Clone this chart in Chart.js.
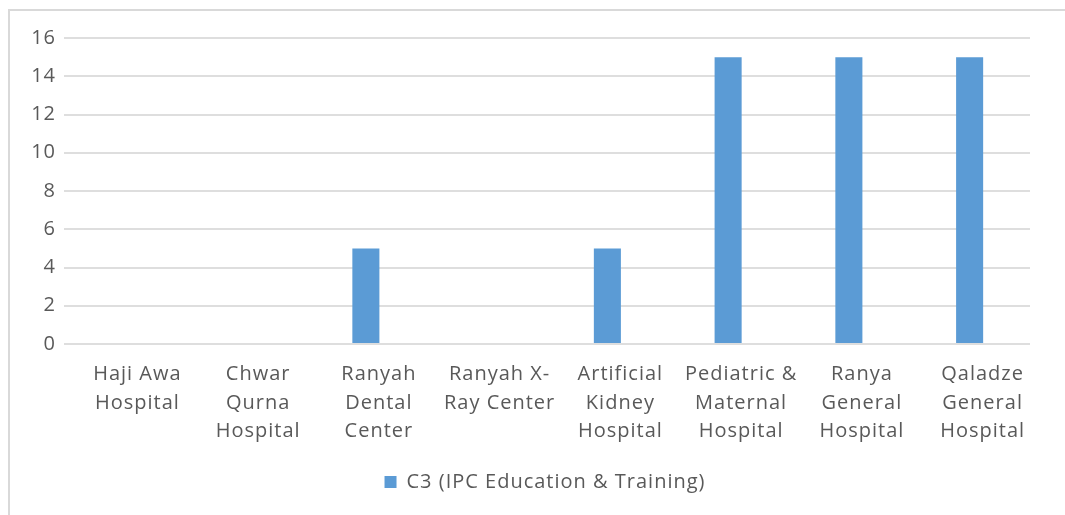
<!DOCTYPE html>
<html>
<head>
<meta charset="utf-8">
<script src="https://cdn.jsdelivr.net/npm/chart.js@4/dist/chart.umd.min.js"></script>
<style>
  body { margin: 0; background: #fff; }
  #frame { position: absolute; left: 8px; top: 9px; width: 1100px; height: 600px;
           border-left: 2px solid #d9d9d9; border-top: 2px solid #d9d9d9; }
  #wrap { position: absolute; left: 0; top: 0; width: 1065px; height: 515px; }
</style>
</head>
<body>
<div id="frame"></div>
<div id="wrap"><canvas id="myChart"></canvas></div>
<script>
// hospitals (tick labels, split the way the picture wraps them)
var hospitals = [
    ["Haji Awa", "Hospital"],
    ["Chwar", "Qurna", "Hospital"],
    ["Ranyah", "Dental", "Center"],
    ["Ranyah X-", "Ray Center"],
    ["Artificial", "Kidney", "Hospital"],
    ["Pediatric &", "Maternal", "Hospital"],
    ["Ranya", "General", "Hospital"],
    ["Qaladze", "General", "Hospital"]
];
var seriesName = "C3 (IPC Education & Training)";
var c3Values = [0, 0, 5, 0, 5, 15, 15, 15];
var yTicks = [0, 2, 4, 6, 8, 10, 12, 14, 16];

var textColor = "#595959";
var fontFamily = "'Open Sans', Lato, sans-serif";

// the original text is set a bit wide, so space the letters out
// and the legend sits a little right of the middle
var tweaks = {
    id: 'tweaks',
    beforeLayout: function (chart) { chart.ctx.letterSpacing = "1px"; },
    afterLayout: function (chart) {
        chart.legend.left += 30;
        chart.legend.right += 30;
    },
    beforeDraw: function (chart) { chart.ctx.letterSpacing = "1px"; }
};

var ctx = document.getElementById("myChart").getContext('2d');
new Chart(ctx, {
    type: 'bar',
    data: {
        labels: hospitals,
        datasets: [{
            label: seriesName,
            data: c3Values,
            backgroundColor: "#5b9bd5",
            borderWidth: 0,
            categoryPercentage: 1,
            barPercentage: 0.224
        }]
    },
    plugins: [tweaks],
    options: {
        responsive: true,
        maintainAspectRatio: false,
        animation: false,
        layout: { padding: { left: 0, right: 35, top: 38, bottom: 13 } },
        plugins: {
            tooltip: { enabled: false },
            legend: {
                display: true,
                position: 'bottom',
                labels: {
                    color: textColor,
                    boxWidth: 12,
                    boxHeight: 12,
                    padding: 10,
                    font: { family: fontFamily, size: 20 }
                }
            }
        },
        scales: {
            x: {
                grid: { display: false, drawTicks: false },
                border: { display: false },
                ticks: {
                    color: textColor,
                    maxRotation: 0,
                    autoSkip: false,
                    padding: 16,
                    labelOffset: 13,
                    font: { family: fontFamily, size: 20, lineHeight: 1.43 }
                },
                afterFit: function (scale) { scale.height = 118; }
            },
            y: {
                min: 0,
                max: 16,
                afterBuildTicks: function (scale) {
                    scale.ticks = yTicks.map(function (v) { return { value: v }; });
                },
                grid: { color: "#dedede", lineWidth: 2, drawTicks: false },
                border: { display: false },
                ticks: {
                    color: textColor,
                    padding: 8,
                    font: { family: fontFamily, size: 20 }
                },
                afterFit: function (scale) { scale.width = 64; }
            }
        }
    }
});
</script>
</body>
</html>
